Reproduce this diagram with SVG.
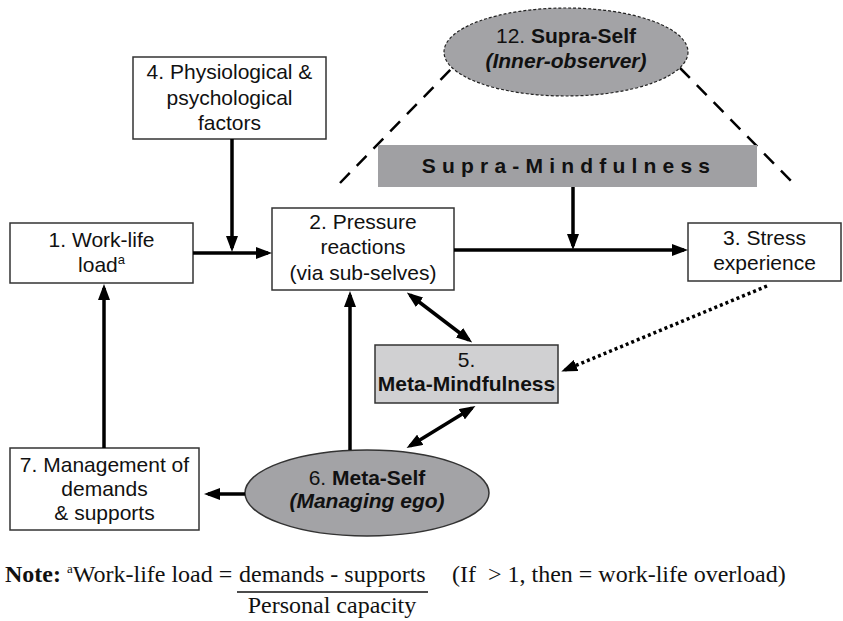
<svg xmlns="http://www.w3.org/2000/svg" width="843" height="621" viewBox="0 0 843 621">
<defs>
<style>
.box{fill:#fff;stroke:#333;stroke-width:1.5}
.t{font-family:"Liberation Sans",Arial,sans-serif;font-size:21px;fill:#111;text-anchor:middle}
.b{font-weight:bold}
.i{font-style:italic}
.c{stroke:#000;stroke-width:3.5;fill:none}
.n{font-family:"Liberation Serif","Times New Roman",serif;font-size:24px;fill:#111}
</style>
<marker id="ah" viewBox="0 0 16 12" markerWidth="16" markerHeight="12" refX="12" refY="6" orient="auto-start-reverse" markerUnits="userSpaceOnUse">
<path d="M0,0 L16,6 L0,12 z" fill="#000"/>
</marker>
</defs>

<g id="supra-lines">
<line x1="340" y1="183" x2="452" y2="68" stroke="#000" stroke-width="2.5" stroke-dasharray="14,10"/>
<line x1="680" y1="68" x2="793" y2="183" stroke="#000" stroke-width="2.5" stroke-dasharray="14,10"/>
</g>

<g id="node12">
<ellipse cx="566" cy="52" rx="122" ry="44" fill="#a3a3a6" stroke="#222" stroke-width="1.2" stroke-dasharray="3,2"/>
<text class="t" x="566" y="43">12. <tspan class="b">Supra-Self</tspan></text>
<text class="t b i" x="566" y="68">(Inner-observer)</text>
</g>

<g id="supra-mindfulness">
<rect x="378" y="145" width="379" height="42" fill="#a0a0a3"/>
<text class="t b" x="569" y="173" style="letter-spacing:6.2px">Supra-Mindfulness</text>
</g>

<g id="node4">
<rect class="box" x="133" y="57" width="193" height="82"/>
<text class="t" x="229.5" y="79">4. Physiological &amp;</text>
<text class="t" x="229.5" y="105">psychological</text>
<text class="t" x="229.5" y="130">factors</text>
</g>

<g id="node1">
<rect class="box" x="10" y="223" width="183" height="60"/>
<text class="t" x="101.5" y="247">1. Work-life</text>
<text class="t" x="101.5" y="272">load<tspan font-size="13" dy="-8">a</tspan></text>
</g>

<g id="node2">
<rect class="box" x="272" y="208" width="182" height="82"/>
<text class="t" x="363" y="229">2. Pressure</text>
<text class="t" x="363" y="254">reactions</text>
<text class="t" x="363" y="280">(via sub-selves)</text>
</g>

<g id="node3">
<rect class="box" x="688" y="223" width="153" height="58"/>
<text class="t" x="764.5" y="245">3. Stress</text>
<text class="t" x="764.5" y="270">experience</text>
</g>

<g id="node5">
<rect x="375" y="345" width="183" height="58" fill="#d0d0d2" stroke="#333" stroke-width="1.5"/>
<text class="t" x="466.5" y="367">5.</text>
<text class="t b" x="466.5" y="391">Meta-Mindfulness</text>
</g>

<g id="node6">
<ellipse cx="367" cy="493" rx="122" ry="43" fill="#a3a3a6" stroke="#333" stroke-width="1.5"/>
<text class="t" x="367" y="485">6. <tspan class="b">Meta-Self</tspan></text>
<text class="t b i" x="367" y="508">(Managing ego)</text>
</g>

<g id="node7">
<rect class="box" x="10" y="448" width="189" height="82"/>
<text class="t" x="104.5" y="472">7. Management of</text>
<text class="t" x="104.5" y="496">demands</text>
<text class="t" x="104.5" y="520">&amp; supports</text>
</g>

<g id="connectors">
<line class="c" x1="193" y1="253" x2="268" y2="253" marker-end="url(#ah)"/>
<line class="c" x1="232" y1="139" x2="232" y2="248" marker-end="url(#ah)"/>
<line class="c" x1="454" y1="250" x2="684" y2="250" marker-end="url(#ah)"/>
<line class="c" x1="573" y1="187" x2="573" y2="246" marker-end="url(#ah)"/>
<line class="c" x1="350" y1="450" x2="350" y2="295" marker-end="url(#ah)"/>
<line class="c" x1="245" y1="494" x2="208" y2="494" marker-end="url(#ah)"/>
<line class="c" x1="104" y1="448" x2="104" y2="288" marker-end="url(#ah)"/>
<line class="c" x1="410" y1="295" x2="469" y2="340" stroke-width="3" marker-start="url(#ah)" marker-end="url(#ah)"/>
<line class="c" x1="472" y1="408" x2="410" y2="446" stroke-width="3" marker-start="url(#ah)" marker-end="url(#ah)"/>
<line class="c" x1="767" y1="286" x2="565" y2="370" stroke-width="4" stroke-dasharray="3,3" marker-end="url(#ah)"/>
</g>

<g id="note">
<text class="n" x="5" y="582"><tspan font-weight="bold">Note:</tspan> <tspan font-size="13" dy="-9">a</tspan><tspan dy="9">Work-life load =</tspan></text>
<text class="n" x="239" y="582">demands - supports</text>
<line x1="237" y1="592" x2="428" y2="592" stroke="#111" stroke-width="1.5"/>
<text class="n" x="332" y="613" text-anchor="middle">Personal capacity</text>
<text class="n" x="452" y="582" xml:space="preserve">(If  &gt; 1, then = work-life overload)</text>
</g>
</svg>
